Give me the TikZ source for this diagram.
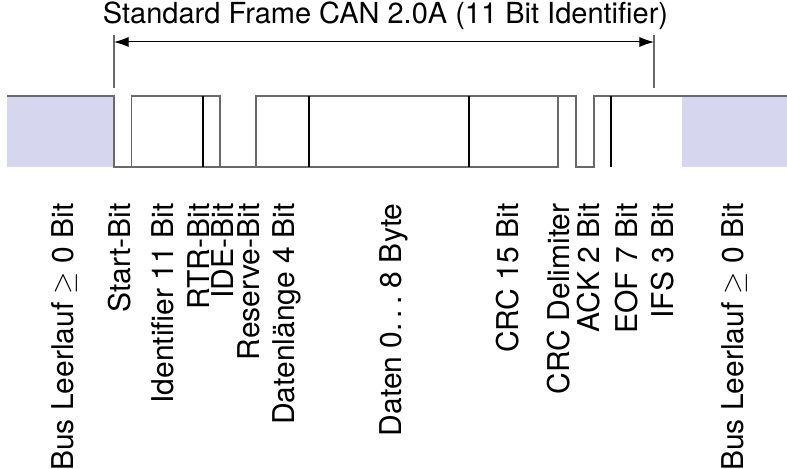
\documentclass[tikz,border=0pt]{standalone}
\usepackage{fontspec}
\setmainfont{TeX Gyre Heros}
\usepackage{tikz}
\usetikzlibrary{arrows.meta}
\definecolor{idle}{RGB}{214,214,238}
\definecolor{wave}{RGB}{105,105,105}

\begin{document}
\begin{tikzpicture}[x=0.5pt, y=-0.5pt,
  font=\fontsize{14.5}{17}\selectfont,
  lbl/.style={rotate=90, anchor=base east, inner sep=0pt, font=\fontsize{15}{18}\selectfont},
  sig/.style={draw=wave, line width=0.75pt},
  sep/.style={draw=black, line width=0.6pt},
  mark line/.style={draw=wave, line width=0.75pt}]

 \useasboundingbox (0,0) rectangle (787,469);

 % Idle bus
 \fill[idle] (7,96) rectangle (114,167);
 \fill[idle] (682,96) rectangle (787,167);

 % Signal levels
 \draw[sig] (7,96) -- (114,96) -- (114,167) -- (558,167) -- (558,96) -- (576,96) -- (576,167) -- (594,167) -- (594,96) -- (787,96);
 \draw[sig] (131.7,167) -- (131.7,96) -- (220,96) -- (220,167);
 \draw[sig] (256,167) -- (256,96) -- (558,96);

 % Field borders
 \draw[sep] (203,96) -- (203,167);
 \draw[sep] (309,96) -- (309,167);
 \draw[sep] (469,96) -- (469,167);
 \draw[sep] (611,96) -- (611,167);

 % Frame length
 \coordinate (sof) at (114,42);
 \coordinate (eof) at (654,42);
 \draw[mark line] (114,35) -- (114,88);
 \draw[mark line] (654,35) -- (654,88);
 \draw[{Latex[length=7.3pt,width=5pt]}-{Latex[length=7.3pt,width=5pt]}, line width=0.5pt] (sof) -- (eof);
 \node[anchor=base] (title) at (385.5,24) {Standard Frame CAN 2.0A (11 Bit Identifier)};

 % Field names
 \node[lbl] (idleL) at (73,203) {Bus Leerlauf $\geq$ 0 Bit};
 \node[lbl] (start) at (130,203) {Start-Bit};
 \node[lbl] (ident) at (173,203) {Identifier 11 Bit};
 \node[lbl] (rtr) at (209,203) {RTR-Bit};
 \node[lbl] (ide) at (233,203) {IDE-Bit};
 \node[lbl] (reserve) at (259,203) {Reserve-Bit};
 \node[lbl] (dlc) at (294,203) {Datenlänge 4 Bit};
 \node[lbl] (data) at (401,203) {Daten 0.\kern.17em.\kern.17em.\ 8 Byte};
 \node[lbl] (crc) at (518,203) {CRC 15 Bit};
 \node[lbl] (crcdel) at (569,203) {CRC Delimiter};
 \node[lbl] (ack) at (599,203) {ACK 2 Bit};
 \node[lbl] (eofbits) at (637,203) {EOF 7 Bit};
 \node[lbl] (ifs) at (673,203) {IFS 3 Bit};
 \node[lbl] (idleR) at (743,203) {Bus Leerlauf $\geq$ 0 Bit};

\end{tikzpicture}
\end{document}
